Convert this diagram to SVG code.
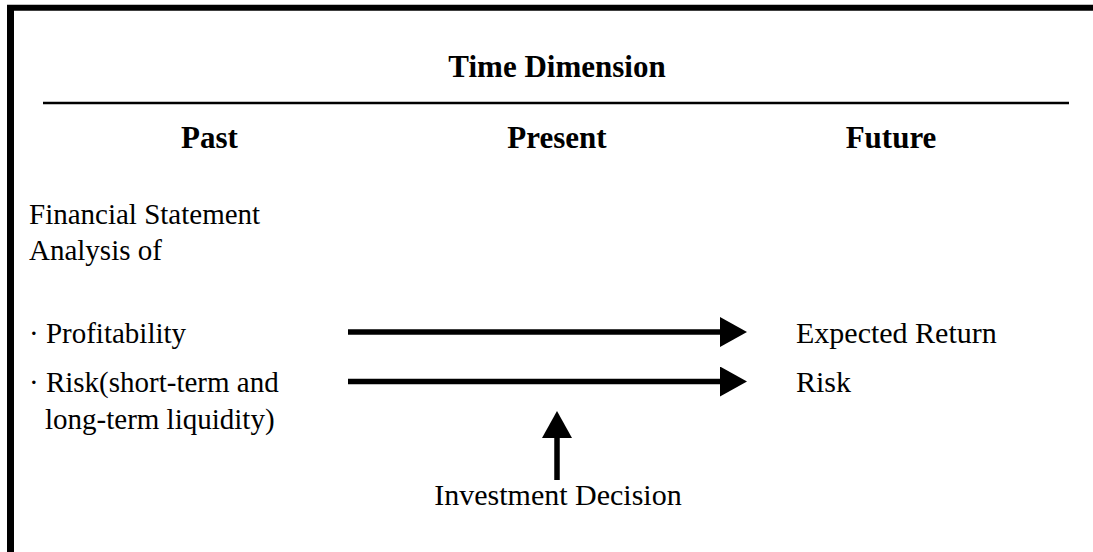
<svg xmlns="http://www.w3.org/2000/svg" width="1093" height="552" viewBox="0 0 1093 552">
  <style>
    .t { font-family: "Liberation Serif", "Times New Roman", serif; font-size: 30px; fill: #000; }
    .l { font-size: 29px; }
    .b { font-weight: bold; text-anchor: middle; font-size: 31px; }
    .c { text-anchor: middle; }
    .conn { stroke: #000; stroke-width: 5.5; fill: none; marker-end: url(#ah); }
  </style>
  <defs>
    <marker id="ah" viewBox="0 0 27 30" markerUnits="userSpaceOnUse" markerWidth="27" markerHeight="30" refX="0" refY="15" orient="auto">
      <path d="M0,0 L27,15 L0,30 Z" fill="#000"/>
    </marker>
  </defs>
  <rect width="1093" height="552" fill="#fff"/>
  <g id="frame">
    <line x1="10.5" y1="5" x2="10.5" y2="552" stroke="#000" stroke-width="7"/>
    <line x1="7" y1="7.8" x2="1093" y2="7.8" stroke="#000" stroke-width="6"/>
    <line x1="43" y1="103" x2="1069" y2="103" stroke="#000" stroke-width="2.5"/>
  </g>
  <g id="header">
    <text class="t b" x="557" y="77">Time Dimension</text>
    <text class="t b" x="209.5" y="148">Past</text>
    <text class="t b" x="557" y="148">Present</text>
    <text class="t b" x="891" y="148">Future</text>
  </g>
  <g id="past">
    <text class="t l" x="29" y="224">Financial Statement</text>
    <text class="t l" x="29" y="260">Analysis of</text>
    <text class="t l" x="29" y="343">· Profitability</text>
    <text class="t l" x="29" y="391.5">· Risk(short-term and</text>
    <text class="t l" x="45" y="428.5">long-term liquidity)</text>
  </g>
  <g id="future">
    <text class="t" x="796" y="343">Expected Return</text>
    <text class="t" x="796" y="392">Risk</text>
  </g>
  <g id="decision">
    <text class="t c" x="558" y="505">Investment Decision</text>
  </g>
  <g id="connectors">
    <line class="conn" x1="348" y1="332" x2="720" y2="332"/>
    <line class="conn" x1="348" y1="381.5" x2="720" y2="381.5"/>
    <line class="conn" x1="557" y1="480" x2="557" y2="438" stroke-width="6"/>
  </g>
</svg>
